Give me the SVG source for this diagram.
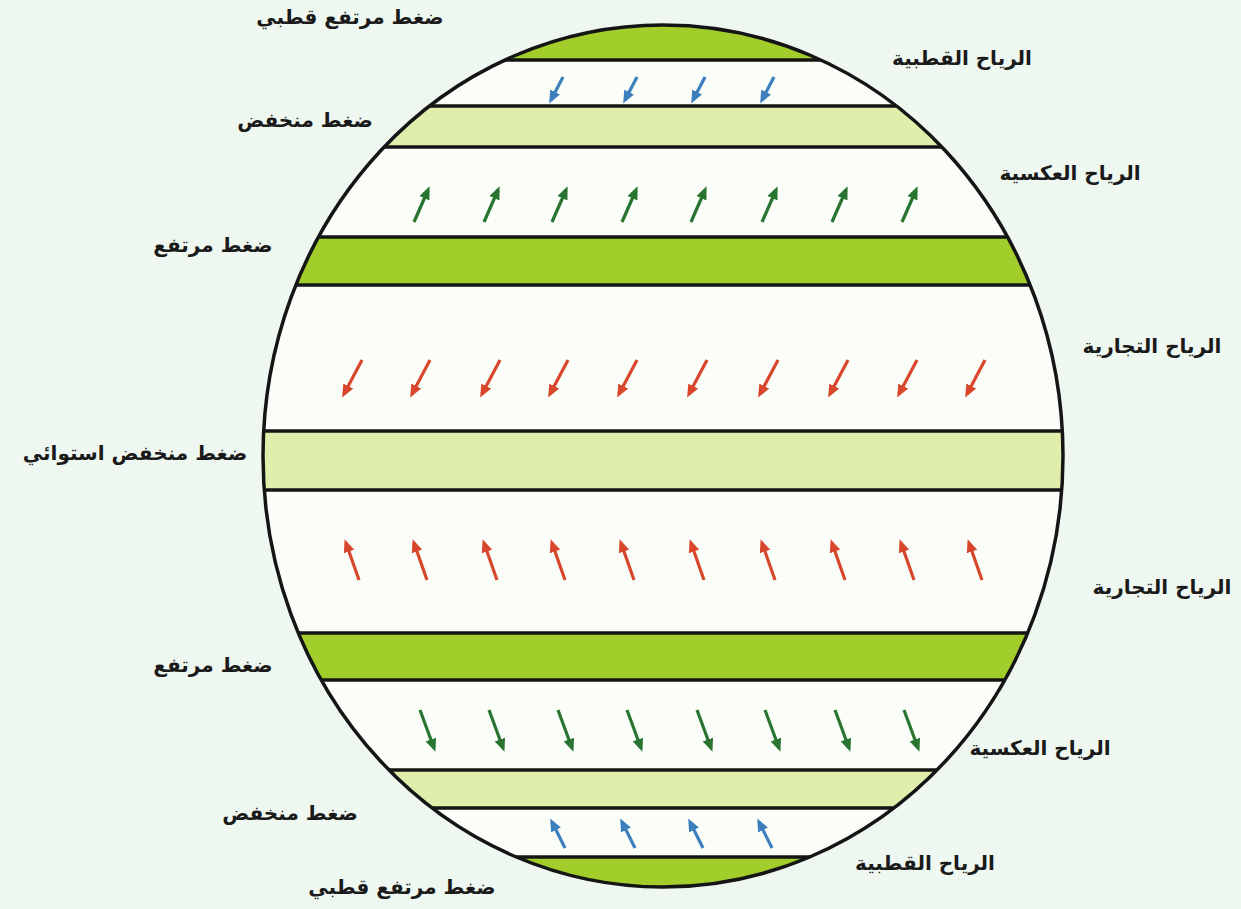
<svg xmlns="http://www.w3.org/2000/svg" width="1241" height="909" viewBox="0 0 1241 909">
<style>
.lbl{font-family:"DejaVu Sans","Noto Sans",sans-serif;font-size:20px;font-weight:bold;fill:#1a1a1a;text-anchor:middle}
.bl{stroke:#151515;stroke-width:3.5}
.dk{fill:#a1ce2b}
.lt{fill:#e0eeab}
.ab{stroke:#3d7fbd;stroke-width:3.2;marker-end:url(#hb)}
.ag{stroke:#2a7431;stroke-width:3.2;marker-end:url(#hg)}
.ar{stroke:#d8472c;stroke-width:3.2;marker-end:url(#hr)}
</style>
<defs>
<clipPath id="globe"><ellipse cx="663" cy="456" rx="400" ry="431"/></clipPath>
<marker id="hb" markerWidth="13" markerHeight="11" refX="9" refY="5.5" orient="auto" markerUnits="userSpaceOnUse"><path d="M0,0 L13,5.5 L0,11 z" fill="#3d7fbd"/></marker>
<marker id="hg" markerWidth="13" markerHeight="11" refX="9" refY="5.5" orient="auto" markerUnits="userSpaceOnUse"><path d="M0,0 L13,5.5 L0,11 z" fill="#2a7431"/></marker>
<marker id="hr" markerWidth="13" markerHeight="11" refX="9" refY="5.5" orient="auto" markerUnits="userSpaceOnUse"><path d="M0,0 L13,5.5 L0,11 z" fill="#d8472c"/></marker>
</defs>
<rect width="1241" height="909" fill="#eef8f1"/>
<ellipse cx="663" cy="456" rx="400" ry="431" fill="#fbfdf8"/>
<g id="bands" clip-path="url(#globe)">
<g id="polar-high-n"><rect x="200" y="0" width="900" height="60" class="dk"/><line x1="200" y1="60" x2="1100" y2="60" class="bl"/></g>
<g id="sub-polar-low-n"><rect x="200" y="106" width="900" height="41" class="lt"/><line x1="200" y1="106" x2="1100" y2="106" class="bl"/><line x1="200" y1="147" x2="1100" y2="147" class="bl"/></g>
<g id="subtropical-high-n"><rect x="200" y="237" width="900" height="48" class="dk"/><line x1="200" y1="237" x2="1100" y2="237" class="bl"/><line x1="200" y1="285" x2="1100" y2="285" class="bl"/></g>
<g id="equatorial-low"><rect x="200" y="431" width="900" height="59" class="lt"/><line x1="200" y1="431" x2="1100" y2="431" class="bl"/><line x1="200" y1="490" x2="1100" y2="490" class="bl"/></g>
<g id="subtropical-high-s"><rect x="200" y="633" width="900" height="47" class="dk"/><line x1="200" y1="633" x2="1100" y2="633" class="bl"/><line x1="200" y1="680" x2="1100" y2="680" class="bl"/></g>
<g id="sub-polar-low-s"><rect x="200" y="770" width="900" height="38" class="lt"/><line x1="200" y1="770" x2="1100" y2="770" class="bl"/><line x1="200" y1="808" x2="1100" y2="808" class="bl"/></g>
<g id="polar-high-s"><rect x="200" y="857" width="900" height="60" class="dk"/><line x1="200" y1="857" x2="1100" y2="857" class="bl"/></g>
</g>
<ellipse id="globe-outline" cx="663" cy="456" rx="400" ry="431" fill="none" stroke="#151515" stroke-width="3.5"/>
<g id="connectors">
<g id="polar-winds-n">
<line x1="563" y1="77" x2="551" y2="100" class="ab"/><line x1="637" y1="77" x2="625" y2="100" class="ab"/><line x1="705" y1="77" x2="693" y2="100" class="ab"/><line x1="774" y1="77" x2="762" y2="100" class="ab"/>
</g>
<g id="westerlies-n">
<line x1="414" y1="222" x2="428" y2="190" class="ag"/><line x1="484" y1="222" x2="498" y2="190" class="ag"/><line x1="552" y1="222" x2="566" y2="190" class="ag"/><line x1="622" y1="222" x2="636" y2="190" class="ag"/><line x1="691" y1="222" x2="705" y2="190" class="ag"/><line x1="762" y1="222" x2="776" y2="190" class="ag"/><line x1="832" y1="222" x2="846" y2="190" class="ag"/><line x1="902" y1="222" x2="916" y2="190" class="ag"/>
</g>
<g id="trade-winds-n">
<line x1="362" y1="360" x2="344" y2="394" class="ar"/><line x1="430" y1="360" x2="412" y2="394" class="ar"/><line x1="500" y1="360" x2="482" y2="394" class="ar"/><line x1="568" y1="360" x2="550" y2="394" class="ar"/><line x1="637" y1="360" x2="619" y2="394" class="ar"/><line x1="707" y1="360" x2="689" y2="394" class="ar"/><line x1="778" y1="360" x2="760" y2="394" class="ar"/><line x1="848" y1="360" x2="830" y2="394" class="ar"/><line x1="917" y1="360" x2="899" y2="394" class="ar"/><line x1="985" y1="360" x2="967" y2="394" class="ar"/>
</g>
<g id="trade-winds-s">
<line x1="359" y1="580" x2="346" y2="543" class="ar"/><line x1="427" y1="580" x2="414" y2="543" class="ar"/><line x1="497" y1="580" x2="484" y2="543" class="ar"/><line x1="565" y1="580" x2="552" y2="543" class="ar"/><line x1="634" y1="580" x2="621" y2="543" class="ar"/><line x1="704" y1="580" x2="691" y2="543" class="ar"/><line x1="775" y1="580" x2="762" y2="543" class="ar"/><line x1="845" y1="580" x2="832" y2="543" class="ar"/><line x1="914" y1="580" x2="901" y2="543" class="ar"/><line x1="982" y1="580" x2="969" y2="543" class="ar"/>
</g>
<g id="westerlies-s">
<line x1="420" y1="710" x2="434" y2="748" class="ag"/><line x1="489" y1="710" x2="503" y2="748" class="ag"/><line x1="558" y1="710" x2="572" y2="748" class="ag"/><line x1="627" y1="710" x2="641" y2="748" class="ag"/><line x1="697" y1="710" x2="711" y2="748" class="ag"/><line x1="765" y1="710" x2="779" y2="748" class="ag"/><line x1="835" y1="710" x2="849" y2="748" class="ag"/><line x1="904" y1="710" x2="918" y2="748" class="ag"/>
</g>
<g id="polar-winds-s">
<line x1="565" y1="848" x2="552" y2="822" class="ab"/><line x1="635" y1="848" x2="622" y2="822" class="ab"/><line x1="703" y1="848" x2="690" y2="822" class="ab"/><line x1="772" y1="848" x2="759" y2="822" class="ab"/>
</g>
</g>
<g id="labels-left">
<text id="l1" x="350" y="24" class="lbl">ضغط مرتفع قطبي</text>
<text id="l2" x="305" y="127" class="lbl">ضغط منخفض</text>
<text id="l3" x="213" y="252" class="lbl">ضغط مرتفع</text>
<text id="l4" x="135" y="460" class="lbl">ضغط منخفض استوائي</text>
<text id="l5" x="213" y="672" class="lbl">ضغط مرتفع</text>
<text id="l6" x="290" y="820" class="lbl">ضغط منخفض</text>
<text id="l7" x="402" y="894" class="lbl">ضغط مرتفع قطبي</text>
</g>
<g id="labels-right">
<text id="r1" x="962" y="65" class="lbl">الرياح القطبية</text>
<text id="r2" x="1070" y="180" class="lbl">الرياح العكسية</text>
<text id="r3" x="1152" y="353" class="lbl">الرياح التجارية</text>
<text id="r4" x="1162" y="594" class="lbl">الرياح التجارية</text>
<text id="r5" x="1040" y="755" class="lbl">الرياح العكسية</text>
<text id="r6" x="925" y="870" class="lbl">الرياح القطبية</text>
</g>
</svg>
